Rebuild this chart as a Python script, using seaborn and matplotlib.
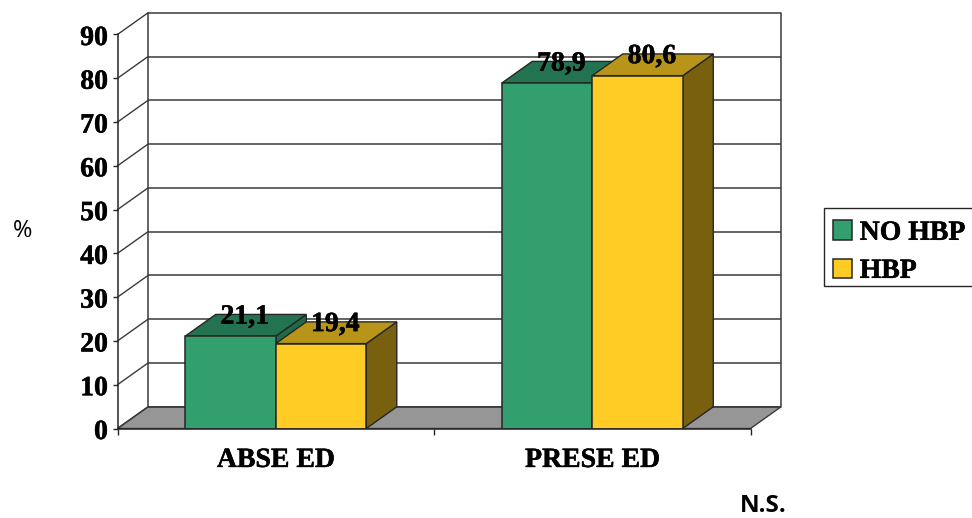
import matplotlib
matplotlib.use("Agg")
import matplotlib.patheffects as pe
import matplotlib.pyplot as plt
import pandas as pd
import seaborn as sns
from matplotlib.patches import Patch, Polygon, Rectangle
from matplotlib.transforms import ScaledTranslation

# Survey percentages by ED status and blood pressure group
groups = ["ABSE ED", "PRESE ED"]
no_hbp = [21.1, 78.9]
hbp = [19.4, 80.6]
series_names = ["NO HBP", "HBP"]
y_ticks = [0, 10, 20, 30, 40, 50, 60, 70, 80, 90]

front_colors = ["#339E6E", "#FFCB25"]
top_colors = ["#237350", "#B89518"]
side_colors = ["#1F6A49", "#78600F"]
floor_color = "#969696"
line_color = "#262626"
grid_color = "#3A3A3A"

W, H = 972, 518
AX_L, AX_R, AX_T, AX_B = 117.5, 750.5, 34.5, 428.5
DEPTH_X, DEPTH_Y = 30.5, 21.7
SERIF_SIZE = 20

sns.set_style("white")
plt.rcParams["font.family"] = ["Liberation Serif"]
plt.rcParams["font.weight"] = "bold"
plt.rcParams["axes.linewidth"] = 1.1
plt.rcParams["text.color"] = "black"
plt.rcParams["xtick.labelcolor"] = "black"
plt.rcParams["ytick.labelcolor"] = "black"

# A hairline stroke gives the serif labels their heavy look
heavy = [pe.withStroke(linewidth=0.35, foreground="black")]

fig = plt.figure(figsize=(W / 100, H / 100), dpi=100)
ax = fig.add_axes([AX_L / W, 1 - AX_B / H, (AX_R - AX_L) / W, (AX_B - AX_T) / H])

df = pd.DataFrame({
    "group": groups * 2,
    "series": [series_names[0]] * 2 + [series_names[1]] * 2,
    "pct": no_hbp + hbp,
})
sns.barplot(
    data=df, x="group", y="pct", hue="series", order=groups, hue_order=series_names,
    palette=front_colors, saturation=1, width=0.572, gap=0, legend=False,
    edgecolor=line_color, linewidth=1.1, zorder=3, ax=ax,
)
bars = list(ax.patches)

x0, x1 = -0.5, len(groups) - 0.5
y0, y1 = y_ticks[0], y_ticks[-1]
ax.set_xlim(x0, x1)
ax.set_ylim(y0, y1)

# Convert the pixel depth of the 3D box into data units
dx = DEPTH_X * (x1 - x0) / (AX_R - AX_L)
dy = DEPTH_Y * (y1 - y0) / (AX_B - AX_T)

# Floor, back wall, gridlines and the diagonals joining them to the axis
ax.add_patch(Polygon([(x0, y0), (x1, y0), (x1 + dx, y0 + dy), (x0 + dx, y0 + dy)],
                     closed=True, facecolor=floor_color, edgecolor=grid_color,
                     linewidth=1.0, clip_on=False, zorder=1))
for t in y_ticks:
    ax.plot([x0 + dx, x1 + dx], [t + dy, t + dy], color=grid_color, lw=1.1,
            clip_on=False, zorder=1.2, solid_capstyle="butt")
    ax.plot([x0, x0 + dx], [t, t + dy], color=grid_color, lw=1.0,
            clip_on=False, zorder=1.2)
for xb in (x0 + dx, x1 + dx):
    ax.plot([xb, xb], [y0 + dy, y1 + dy], color=grid_color, lw=1.1,
            clip_on=False, zorder=1.2)

# Top and side faces extruded from each seaborn bar
values = no_hbp + hbp
for i, bar in enumerate(bars):
    s = i // len(groups)
    left, w, h = bar.get_x(), bar.get_width(), bar.get_height()
    right = left + w
    z = 2 + s * 0.2
    ax.add_patch(Polygon([(right, 0), (right + dx, dy), (right + dx, h + dy), (right, h)],
                         closed=True, facecolor=side_colors[s], edgecolor=line_color,
                         linewidth=1.0, clip_on=False, zorder=z))
    ax.add_patch(Polygon([(left, h), (right, h), (right + dx, h + dy), (left + dx, h + dy)],
                         closed=True, facecolor=top_colors[s], edgecolor=line_color,
                         linewidth=1.0, clip_on=False, zorder=z + 0.1))
    ax.annotate(f"{values[i]:.1f}".replace(".", ","), xy=(left + w / 2, h),
                xytext=(DEPTH_X / 2 - 1, 19), textcoords="offset pixels",
                ha="center", va="center", fontsize=SERIF_SIZE, fontweight="bold",
                color="black", zorder=6, annotation_clip=False, path_effects=heavy)

# Axes: boundary ticks on x, category names centred between them
sns.despine(ax=ax, top=True, right=True)
ax.spines["left"].set_color(line_color)
ax.spines["bottom"].set_color(line_color)
ax.spines["left"].set_zorder(4)
ax.spines["bottom"].set_zorder(4)
ax.set_yticks(y_ticks)
ax.set_yticklabels([str(t) for t in y_ticks])
ax.set_xticks([x0, 0.5, x1])
ax.set_xticklabels([])
ax.set_xticks(range(len(groups)), labels=groups, minor=True)
ax.tick_params(axis="y", which="major", left=True, length=3.5, width=1.0, pad=3.5,
               labelsize=SERIF_SIZE, color=line_color)
ax.tick_params(axis="x", which="major", bottom=True, length=4.5, width=1.0, color=line_color)
ax.tick_params(axis="x", which="minor", bottom=False, length=0, pad=14, labelsize=SERIF_SIZE)
ax.set_xlabel("")
ax.set_ylabel("")

nudge_down = ScaledTranslation(0, -1.0 / 100, fig.dpi_scale_trans)
for label in ax.get_yticklabels():
    label.set_transform(label.get_transform() + nudge_down)
    label.set_path_effects(heavy)
for label in ax.get_xticklabels(minor=True):
    label.set_path_effects(heavy)

# Annotations in a sans face
fig.text(22.5 / W, 1 - 231 / H, "%", ha="center", va="center", fontsize=17,
         family="Open Sans", fontweight="normal", color="black")
fig.text(763 / W, 1 - 505.5 / H, "N.S.", ha="center", va="center", fontsize=17.5,
         family="Open Sans", fontweight="bold", color="black")

# Legend frame runs off the right edge of the figure
fig.add_artist(Rectangle((823.7 / W, 1 - 285.7 / H), (W + 5 - 823.7) / W, 78.2 / H,
                         transform=fig.transFigure, facecolor="white",
                         edgecolor=line_color, linewidth=1.0))
handles = [Patch(facecolor=c, edgecolor=line_color, linewidth=1.1) for c in front_colors]
legend = fig.legend(
    handles, series_names, loc="upper left",
    bbox_to_anchor=(833 / W, 1 - 220.5 / H), borderaxespad=0,
    frameon=False, handlelength=0.68, handleheight=0.68, handletextpad=0.28,
    labelspacing=0.46, borderpad=0,
    prop={"family": "Liberation Serif", "weight": "bold", "size": SERIF_SIZE},
)
for text in legend.get_texts():
    text.set_path_effects(heavy)

fig.savefig("out.png", dpi=100, facecolor="white")
